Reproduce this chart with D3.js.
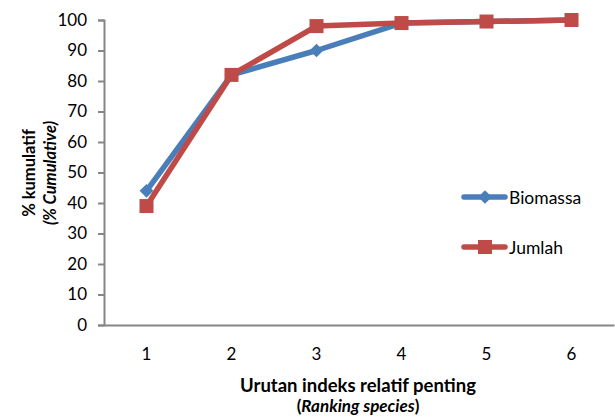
<!DOCTYPE html>
<html>
<head>
<meta charset="utf-8">
<script src="https://cdn.jsdelivr.net/npm/d3@7"></script>
<style>
  body { margin: 0; background: #fff; }
  text { font-family: Lato, "Open Sans", sans-serif; fill: #000; }
</style>
</head>
<body>
<svg id="chart" width="615" height="419"></svg>
<script>
// Cumulative percentage by importance rank
const ranks = ["1", "2", "3", "4", "5", "6"];
const biomassa = [44, 82, 90, 99, 99.5, 100];
const jumlah = [39, 82, 98, 99, 99.5, 100];
const yTicks = [0, 10, 20, 30, 40, 50, 60, 70, 80, 90, 100];
const seriesNames = ["Biomassa", "Jumlah"];
const seriesColors = ["#4A7EBB", "#BE4B48"];

const svg = d3.select("#chart");
const plotLeft = 104, plotRight = 614, plotTop = 20, plotBottom = 325;

const x = d3.scaleBand().domain(ranks).range([plotLeft, plotRight]);
const y = d3.scaleLinear().domain([0, 100]).range([plotBottom, plotTop]);

// Y axis
const yAxis = svg.append("g")
  .attr("transform", `translate(${plotLeft},0)`)
  .call(d3.axisLeft(y).tickValues(yTicks).tickSize(6).tickPadding(11));
yAxis.selectAll("text").style("font-size", "17px");

// X axis (no tick marks)
const xAxis = svg.append("g")
  .attr("transform", `translate(0,${plotBottom})`)
  .call(d3.axisBottom(x).tickSize(0).tickPadding(23));
xAxis.selectAll("text").style("font-size", "17px");

svg.selectAll(".domain, .tick line")
  .attr("stroke", "#868686").attr("stroke-width", 2);

// Series lines and markers
const series = [biomassa, jumlah];
const line = d3.line()
  .x((d, i) => x(ranks[i]) + x.bandwidth() / 2)
  .y(d => y(d));

series.forEach((vals, s) => {
  svg.append("path")
    .datum(vals)
    .attr("d", line)
    .attr("fill", "none")
    .attr("stroke", seriesColors[s])
    .attr("stroke-width", 5.5)
    .attr("stroke-linejoin", "round");
});

function marker(g, s, cx, cy) {
  if (s === 0) {
    g.append("path")
      .attr("d", d3.symbol(d3.symbolDiamond2, 120)())
      .attr("transform", `translate(${cx},${cy})`)
      .attr("fill", seriesColors[s]);
  } else {
    g.append("rect")
      .attr("x", cx - 7).attr("y", cy - 7)
      .attr("width", 14).attr("height", 14)
      .attr("fill", seriesColors[s]);
  }
}

series.forEach((vals, s) => {
  const g = svg.append("g");
  vals.forEach((v, i) => marker(g, s, x(ranks[i]) + x.bandwidth() / 2, y(v)));
});

// Legend
seriesNames.forEach((name, s) => {
  const ly = 197 + s * 50;
  svg.append("line")
    .attr("x1", 464).attr("x2", 505).attr("y1", ly).attr("y2", ly)
    .attr("stroke", seriesColors[s]).attr("stroke-width", 5.5)
    .attr("stroke-linecap", "round");
  marker(svg, s, 485, ly);
  svg.append("text")
    .attr("x", 509).attr("y", ly + 7)
    .style("font-size", "17.5px")
    .text(name);
});

// Axis titles
const yt = svg.append("text")
  .attr("transform", "translate(0,173) rotate(-90)")
  .attr("text-anchor", "middle")
  .style("font-size", "16.5px").style("font-weight", "bold");
yt.append("tspan").attr("x", 0).attr("y", 35).text("% kumulatif");
yt.append("tspan").attr("x", 0).attr("y", 56).style("font-style", "italic").text("(% Cumulative)");

svg.append("text")
  .attr("x", 358).attr("y", 392)
  .attr("text-anchor", "middle")
  .style("font-size", "18.5px").style("font-weight", "bold")
  .text("Urutan indeks relatif penting");
const xt2 = svg.append("text")
  .attr("x", 358).attr("y", 412)
  .attr("text-anchor", "middle")
  .style("font-size", "17px").style("font-weight", "bold");
xt2.append("tspan").text("(");
xt2.append("tspan").style("font-style", "italic").text("Ranking species");
xt2.append("tspan").text(")");
</script>
</body>
</html>
